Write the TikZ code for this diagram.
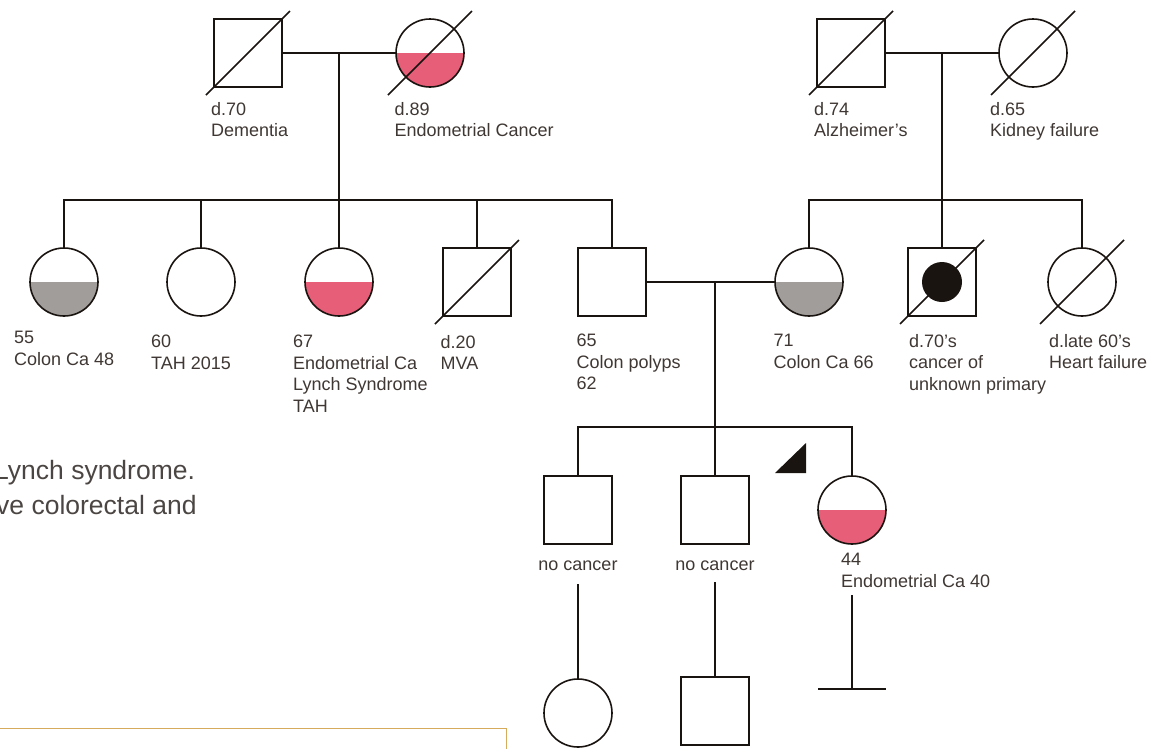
\documentclass[tikz,border=0pt]{standalone}
\usepackage{fontspec}
\setmainfont{Liberation Sans}
\usetikzlibrary{calc, positioning}
\definecolor{InkBlack}{HTML}{1A1411}
\definecolor{LabelBrown}{HTML}{3F3733}
\definecolor{NoteGray}{HTML}{4B4643}
\definecolor{EndoPink}{HTML}{E65E78}
\definecolor{ColonGray}{HTML}{A09D9A}
\definecolor{BoxTan}{HTML}{D6AC5C}

\tikzset{
  pedline/.style={draw=InkBlack, line width=1.6pt},
  male/.style={pedline, rectangle, minimum size=68pt, inner sep=0pt, fill=white},
  female/.style={pedline, circle, minimum size=68pt, inner sep=0pt, fill=white},
  half/.style={path picture={\fill[#1] (path picture bounding box.west) rectangle (path picture bounding box.south east);}},
  info/.style={anchor=north west, inner sep=0pt, align=left, text=LabelBrown,
               font=\fontsize{18}{21.5}\selectfont},
  note/.style={anchor=base west, inner sep=0pt, text=NoteGray,
               font=\fontsize{26.5}{35}\selectfont},
}

\begin{document}
\begin{tikzpicture}[x=1pt, y=-1pt]
\useasboundingbox (0,0) rectangle (1168,748);
\clip (0,0) rectangle (1168,748);

% generation I
\node[male] (pgf) at (248,53) {};
\node[female, half=EndoPink] (pgm) at (430,53) {};
\node[male] (mgf) at (851,53) {};
\node[female] (mgm) at (1033,53) {};

% generation II
\node[female, half=ColonGray] (aunt55) at (64,282) {};
\node[female] (aunt60) at (201,282) {};
\node[female, half=EndoPink] (aunt67) at (339,282) {};
\node[male] (uncMVA) at (477,282) {};
\node[male] (father) at (612,282) {};
\node[female, half=ColonGray] (mother) at (809,282) {};
\node[male] (uncCUP) at (942,282) {};
\node[female] (auntHF) at (1082,282) {};
\fill[InkBlack] (uncCUP.center) circle (20pt);

% generation III and IV
\node[male] (bro1) at (578,510) {};
\node[male] (bro2) at (715,510) {};
\node[female, half=EndoPink] (proband) at (852,510) {};
\node[female] (niece) at (578,713) {};
\node[male] (nephew) at (715,711) {};

% couples and sibships
\coordinate (pdrop) at ($(pgf)!0.5!(pgm)$);
\coordinate (psib) at (339,200);
\coordinate (mdrop) at ($(mgf)!0.5!(mgm)$);
\coordinate (msib) at (942,200);
\coordinate (fdrop) at (715,282);
\coordinate (fsib) at (715,427);
\draw[pedline] (pgf) -- (pgm);
\draw[pedline] (mgf) -- (mgm);
\draw[pedline] (father) -- (mother);
\draw[pedline] (pdrop) -- (psib);
\draw[pedline] (mdrop) -- (msib);
\draw[pedline] (fdrop) -- (fsib);
\draw[pedline] (aunt55.north) |- (psib) -| (father.north);
\foreach \k in {aunt60, aunt67, uncMVA}
  \draw[pedline] (\k.north) -- (\k |- psib);
\draw[pedline] (mother.north) |- (msib) -| (auntHF.north);
\draw[pedline] (uncCUP.north) -- (msib);
\draw[pedline] (bro1.north) |- (fsib) -| (proband.north);
\draw[pedline] (bro2.north) -- (fsib);

% deceased
\foreach \d in {pgf, pgm, mgf, mgm, uncMVA, uncCUP, auntHF}
  \draw[pedline] ([shift={(-42,42)}]\d.center) -- ([shift={(42,-42)}]\d.center);

% proband arrow
\fill[InkBlack] ([shift={(-77,-37)}]proband.center) -- ([shift={(-46,-67)}]proband.center)
  -- ([shift={(-46,-37)}]proband.center) -- cycle;

% labels
\node[info] (pgfL) at (211,102) {d.70\\Dementia};
\node[info] (pgmL) at (394.5,102) {d.89\\Endometrial Cancer};
\node[info] (mgfL) at (814,102) {d.74\\Alzheimer’s};
\node[info] (mgmL) at (990,102) {d.65\\Kidney failure};
\node[info] (aunt55L) at (14,331) {55\\Colon Ca 48};
\node[info] (aunt60L) at (151,335) {60\\TAH 2015};
\node[info] (aunt67L) at (293,335) {67\\Endometrial Ca\\Lynch Syndrome\\TAH};
\node[info] (uncMVAL) at (440.5,335) {d.20\\MVA};
\node[info] (fatherL) at (576.5,334) {65\\Colon polyps\\62};
\node[info] (motherL) at (773.5,334) {71\\Colon Ca 66};
\node[info] (uncCUPL) at (909,334) {d.70’s\\cancer of\\unknown primary};
\node[info] (auntHFL) at (1049,334) {d.late 60’s\\Heart failure};
\node[info, anchor=base] (bro1L) at (578,570) {no cancer};
\node[info, anchor=base] (bro2L) at (715,570) {no cancer};
\node[info] (probandL) at (841,553) {44\\Endometrial Ca 40};

% descendants
\coordinate (noissue) at (852,689);
\coordinate (probandStub) at (852,595);
\draw[pedline] ([yshift=-14]bro1L.base) -- (niece.north);
\draw[pedline] ([yshift=-12]bro2L.base) -- (nephew.north);
\draw[pedline] (probandStub) -- (noissue);
\draw[pedline] ([xshift=-34]noissue) -- ([xshift=34]noissue);

% cut-off text and box
\node[note] (noteA) at (-6,479) {Lynch syndrome.};
\node[note] (noteB) at (-4,514) {ve colorectal and};
\node[draw=BoxTan, line width=1.2pt, anchor=north west, minimum width=516pt,
      minimum height=60pt] (callout) at (-10,728) {};
\end{tikzpicture}
\end{document}
